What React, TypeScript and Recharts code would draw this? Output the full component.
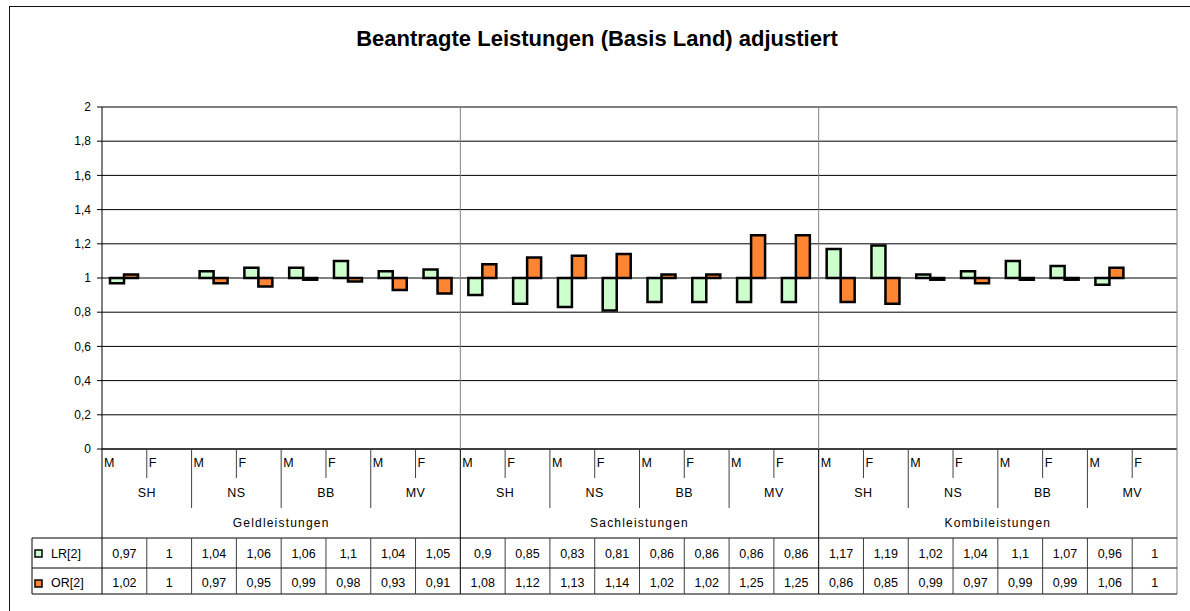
import React from 'react';
import { ComposedChart, Bar, XAxis, YAxis, CartesianGrid, ReferenceLine } from 'recharts';

const groups = ['Geldleistungen', 'Sachleistungen', 'Kombileistungen'];
const regions = ['SH', 'NS', 'BB', 'MV'];
const sexes = ['M', 'F'];

const lrValues = [0.97, 1, 1.04, 1.06, 1.06, 1.1, 1.04, 1.05, 0.9, 0.85, 0.83, 0.81, 0.86, 0.86, 0.86, 0.86, 1.17, 1.19, 1.02, 1.04, 1.1, 1.07, 0.96, 1];
const orValues = [1.02, 1, 0.97, 0.95, 0.99, 0.98, 0.93, 0.91, 1.08, 1.12, 1.13, 1.14, 1.02, 1.02, 1.25, 1.25, 0.86, 0.85, 0.99, 0.97, 0.99, 0.99, 1.06, 1];

const yTicks = [0, 0.2, 0.4, 0.6, 0.8, 1, 1.2, 1.4, 1.6, 1.8, 2];
const seriesNames = ['LR[2]', 'OR[2]'];

const LR_FILL = '#CCFFCC';
const OR_FILL = '#FF8533';
const FONT = '"Liberation Sans", Arial, sans-serif';

const W = 1190;
const H = 611;
const MARGIN = { top: 107, right: 13, bottom: 16, left: 0 };
const Y_AXIS_W = 102;
const X_AXIS_H = 146;
const PLOT_H = H - MARGIN.top - MARGIN.bottom - X_AXIS_H;
const HALF_BAND = (W - MARGIN.right - MARGIN.left - Y_AXIS_W) / lrValues.length / 2;

const data = lrValues.map((lr, i) => ({
  idx: i,
  sex: sexes[i % 2],
  region: regions[Math.floor(i / 2) % regions.length],
  group: groups[Math.floor(i / 8)],
  lr,
  or: orValues[i],
}));

const fmt = (v: number) => String(v).replace('.', ',');

function CategoryTick(props: any) {
  const { x, y, payload } = props;
  const i = Number(payload.value);
  const d = data[i];
  const half = payload.offset ? payload.offset : HALF_BAND;
  const left = x - half;
  const right = x + half;
  const tTop = y + 89;
  const tMid = y + 119;
  const tBot = y + 145;
  const isGroupStart = i % 8 === 0;
  const isRegionStart = i % 2 === 0;
  const txt = { fontFamily: FONT, fontSize: 12, fill: '#000' };

  let divBottom = y + 29;
  if (isRegionStart) divBottom = y + 59;
  if (isGroupStart) divBottom = tBot;

  return (
    <g>
      {isGroupStart && i > 0 && <line x1={left} x2={left} y1={y - PLOT_H} y2={y} stroke="#808080" />}
      {i === data.length - 1 && <line x1={right} x2={right} y1={y - PLOT_H} y2={tBot} stroke="#808080" />}
      <line x1={left} x2={left} y1={y} y2={divBottom} stroke={isGroupStart ? '#000' : '#404040'} />
      {!isGroupStart && <line x1={left} x2={left} y1={tTop} y2={tBot} stroke="#404040" />}
      <text x={left + 2} y={y + 18} {...txt} fontSize={12.5}>{d.sex}</text>
      {i % 2 === 1 && <text x={left} y={y + 48} textAnchor="middle" {...txt} fontSize={12.5} letterSpacing={0.4}>{d.region}</text>}
      {i % 8 === 4 && <text x={left} y={y + 78} textAnchor="middle" {...txt} letterSpacing={1.2}>{d.group}</text>}
      <line x1={left} x2={right} y1={tTop} y2={tTop} stroke="#000" />
      <line x1={left} x2={right} y1={tMid} y2={tMid} stroke="#000" />
      <line x1={left} x2={right} y1={tBot} y2={tBot} stroke="#000" />
      <text x={x} y={y + 109} textAnchor="middle" {...txt} fontSize={12.5}>{fmt(d.lr)}</text>
      <text x={x} y={y + 138} textAnchor="middle" {...txt} fontSize={12.5}>{fmt(d.or)}</text>
      {i === 0 && (
        <g>
          <line x1={left - 70} x2={left} y1={tTop} y2={tTop} stroke="#000" />
          <line x1={left - 70} x2={left} y1={tMid} y2={tMid} stroke="#000" />
          <line x1={left - 70} x2={left} y1={tBot} y2={tBot} stroke="#000" />
          <line x1={left - 70} x2={left - 70} y1={tTop} y2={tBot} stroke="#000" />
          <rect x={left - 67} y={y + 101} width={7} height={7} fill={LR_FILL} stroke="#000" strokeWidth={1.5} />
          <rect x={left - 67} y={y + 131} width={7} height={7} fill={OR_FILL} stroke="#000" strokeWidth={1.5} />
          <text x={left - 51} y={y + 109} {...txt} fontSize={12.5}>{seriesNames[0]}</text>
          <text x={left - 51} y={y + 138} {...txt} fontSize={12.5}>{seriesNames[1]}</text>
        </g>
      )}
    </g>
  );
}

export default function App() {
  return (
    <div style={{ position: 'relative', width: W, height: H, overflow: 'hidden', background: '#fff' }}>
      <style>{'body{margin:0}'}</style>
      <div
        style={{
          position: 'absolute',
          left: 9,
          top: 6,
          width: W + 20,
          height: H + 20,
          border: '1.5px solid #111',
        }}
      />
      <div
        style={{
          position: 'absolute',
          left: 0,
          top: 28,
          width: 1194,
          textAlign: 'center',
          fontFamily: FONT,
          fontWeight: 'bold',
          fontSize: 22,
          lineHeight: '22px',
          color: '#000',
        }}
      >
        Beantragte Leistungen (Basis Land) adjustiert
      </div>
      <div style={{ position: 'absolute', left: 0, top: 0 }}>
        <ComposedChart width={W} height={H} data={data} margin={MARGIN} barGap={0}>
          <CartesianGrid horizontal vertical={false} stroke="#000" />
          <ReferenceLine y={2} stroke="#808080" />
          <XAxis
            dataKey="idx"
            type="category"
            interval={0}
            height={X_AXIS_H}
            tickLine={false}
            tickSize={0}
            tickMargin={0}
            axisLine={{ stroke: '#000' }}
            tick={<CategoryTick />}
          />
          <YAxis
            width={Y_AXIS_W}
            domain={[0, 2]}
            ticks={yTicks}
            tickFormatter={fmt}
            tickSize={5}
            tickMargin={6}
            axisLine={{ stroke: '#000' }}
            tickLine={{ stroke: '#000' }}
            tick={{ fontFamily: FONT, fontSize: 12, fill: '#000' }}
          />
          <Bar
            dataKey={(d: any) => [Math.min(1, d.lr), Math.max(1, d.lr)]}
            fill={LR_FILL}
            stroke="#000"
            strokeWidth={2.5}
            barSize={14}
            isAnimationActive={false}
          />
          <Bar
            dataKey={(d: any) => [Math.min(1, d.or), Math.max(1, d.or)]}
            fill={OR_FILL}
            stroke="#000"
            strokeWidth={2.5}
            barSize={14}
            isAnimationActive={false}
          />
        </ComposedChart>
      </div>
    </div>
  );
}
